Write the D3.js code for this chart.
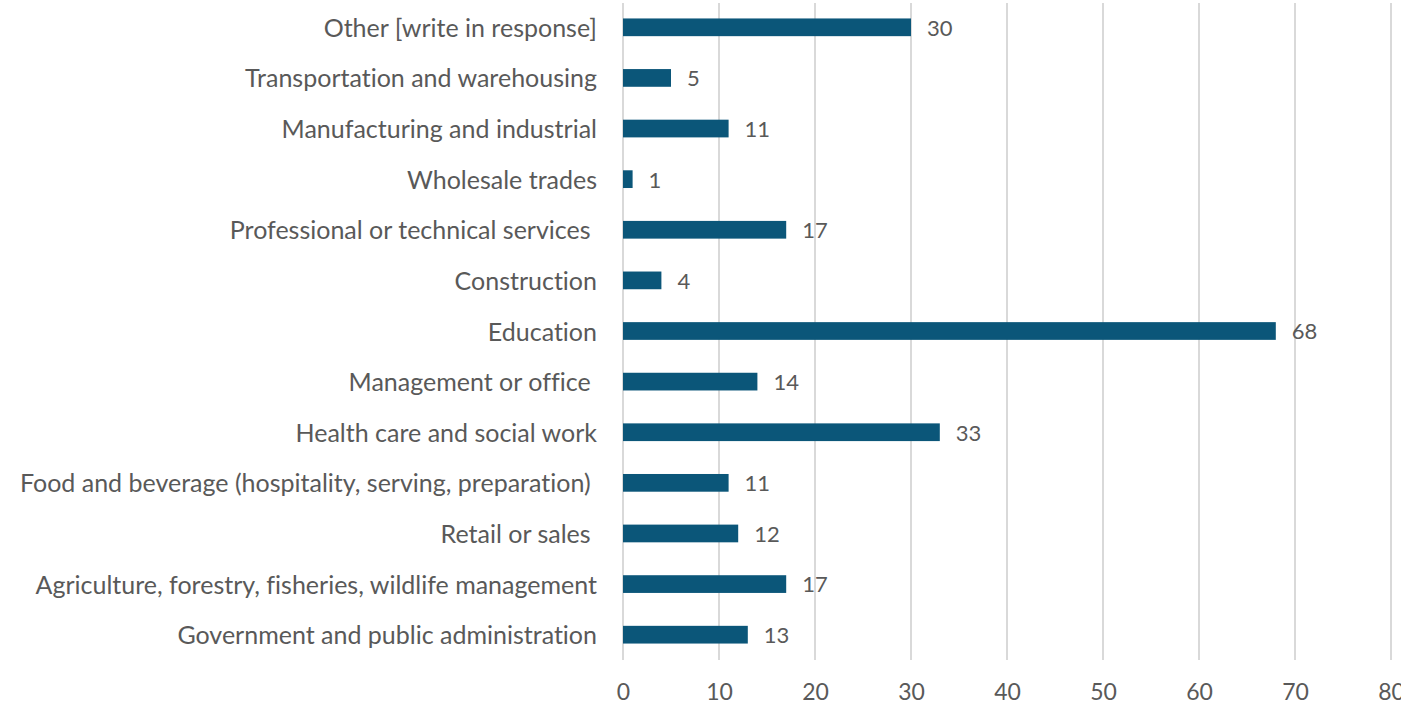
<!DOCTYPE html>
<html>
<head>
<meta charset="utf-8">
<script src="https://cdn.jsdelivr.net/npm/d3@7"></script>
<style>
  html, body { margin: 0; padding: 0; background: #ffffff; }
  svg { display: block; }
  text {
    font-family: Lato, "Open Sans", sans-serif;
    fill: #595959;
    white-space: pre;
    font-variant-ligatures: none;
    font-feature-settings: "liga" 0, "clig" 0;
  }
</style>
</head>
<body>
<svg id="chart" width="1401" height="704"></svg>
<script>
// Industry categories, listed bottom-to-top as they appear on the axis
const categories = [
  "Government and public administration",
  "Agriculture, forestry, fisheries, wildlife management",
  "Retail or sales ",
  "Food and beverage (hospitality, serving, preparation) ",
  "Health care and social work",
  "Management or office ",
  "Education",
  "Construction",
  "Professional or technical services ",
  "Wholesale trades",
  "Manufacturing and industrial",
  "Transportation and warehousing",
  "Other [write in response]"
];
const counts = [13, 17, 12, 11, 33, 14, 68, 4, 17, 1, 11, 5, 30];
const xTicks = [0, 10, 20, 30, 40, 50, 60, 70, 80];

const svg = d3.select("#chart");
const margin = { left: 623, right: 10, top: 2, bottom: 44 };
const width = 1401, height = 704;

const x = d3.scaleLinear().domain([0, 80]).range([margin.left, margin.left + 768]);
const y = d3.scaleBand()
  .domain(categories.slice().reverse())
  .range([margin.top, height - margin.bottom])
  .paddingInner(0.65)
  .paddingOuter(0.325);

// vertical gridlines
svg.append("g")
  .selectAll("line")
  .data(xTicks)
  .join("line")
  .attr("x1", d => x(d)).attr("x2", d => x(d))
  .attr("y1", 3).attr("y2", height - margin.bottom)
  .attr("stroke", "#d9d9d9").attr("stroke-width", 2);

// x-axis tick labels
const xAxis = d3.axisBottom(x).tickValues(xTicks).tickSize(0).tickPadding(0);
const gx = svg.append("g")
  .attr("transform", `translate(0, ${height - margin.bottom})`)
  .call(xAxis);
gx.select(".domain").remove();
gx.selectAll("text")
  .attr("y", 40)
  .attr("dy", null)
  .style("font-size", "23px")
  .style("font-family", "Lato, 'Open Sans', sans-serif")
  .attr("fill", "#595959");

// category labels
const yAxis = d3.axisLeft(y).tickSize(0).tickPadding(26);
const gy = svg.append("g")
  .attr("transform", `translate(${margin.left}, 0)`)
  .call(yAxis);
gy.select(".domain").remove();
gy.selectAll("text")
  .attr("dy", "0.38em")
  .style("font-size", "25px")
  .style("font-family", "Lato, 'Open Sans', sans-serif")
  .attr("fill", "#595959");

const rows = categories.map((c, i) => ({ c, v: counts[i] }));

// bars
svg.append("g")
  .selectAll("rect")
  .data(rows)
  .join("rect")
  .attr("x", x(0))
  .attr("y", d => y(d.c))
  .attr("width", d => x(d.v) - x(0))
  .attr("height", y.bandwidth())
  .attr("fill", "#0b5679");

// value labels
svg.append("g")
  .selectAll("text")
  .data(rows)
  .join("text")
  .attr("x", d => x(d.v) + 16)
  .attr("y", d => y(d.c) + y.bandwidth() / 2)
  .attr("dy", "0.38em")
  .style("font-size", "22px")
  .text(d => d.v);
</script>
</body>
</html>
